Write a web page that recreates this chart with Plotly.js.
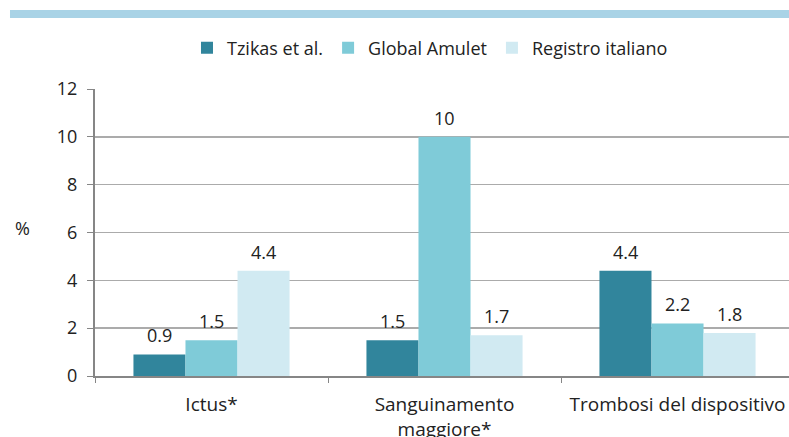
<!DOCTYPE html>
<html>
<head>
<meta charset="utf-8">
<script src="https://cdn.plot.ly/plotly-3.0.1.min.js"></script>
<style>html,body{margin:0;padding:0;background:#fff;}#chart{width:789px;height:437px;}</style>
</head>
<body>
<div id="chart"></div>
<script>
const categories = ["Ictus*", "Sanguinamento<br>maggiore*", "Trombosi del dispositivo"];
const seriesNames = ["Tzikas et al.", "Global Amulet", "Registro italiano"];
const tzikas = [0.9, 1.5, 4.4];
const globalAmulet = [1.5, 10, 2.2];
const registro = [4.4, 1.7, 1.8];
const yTicks = [0, 2, 4, 6, 8, 10, 12];
const colors = ["#31859C", "#7FCBD8", "#D1EAF2"];

const FONT = "'Open Sans', 'Noto Sans', sans-serif";
const BARGAP = 0.33;
const seriesValues = [tzikas, globalAmulet, registro];
const traces = seriesValues.map((vals, i) => ({
  type: "bar",
  name: seriesNames[i],
  x: categories,
  y: vals,
  marker: {color: colors[i], line: {width: 0}},
  hoverinfo: "none"
}));

// value labels placed above each bar through the axes
const barW = (1 - BARGAP) / seriesValues.length;
const labelAnns = [];
seriesValues.forEach((vals, i) => {
  vals.forEach((v, j) => {
    labelAnns.push({
      x: j + (i - (seriesValues.length - 1) / 2) * barW,
      y: v, xref: "x", yref: "y",
      text: String(v), showarrow: false,
      xanchor: "center", yanchor: "middle", yshift: 19,
      font: {family: FONT, size: 18, color: "#222"}
    });
  });
});

const layout = {
  width: 789, height: 437,
  margin: {l: 95, r: 0, t: 89, b: 61},
  paper_bgcolor: "#fff", plot_bgcolor: "#fff",
  barmode: "group",
  bargap: BARGAP, bargroupgap: 0,
  font: {family: FONT, size: 18, color: "#222"},
  showlegend: true,
  legend: {
    orientation: "h", x: 0.4827, xanchor: "center", y: 1.143, yanchor: "middle",
    font: {family: FONT, size: 18, color: "#222"},
    traceorder: "normal", itemwidth: 30
  },
  xaxis: {
    type: "category",
    range: [-0.5, 2.4785],
    showline: true, linecolor: "#868686", linewidth: 2,
    ticks: "outside", tickson: "boundaries", ticklen: 5, tickcolor: "#868686", tickwidth: 1,
    ticklabelstandoff: 10,
    showgrid: false, zeroline: false,
    tickfont: {family: FONT, size: 19, color: "#222"}
  },
  yaxis: {
    range: [0, 12], tickvals: yTicks, ticktext: yTicks.map(String),
    showline: true, linecolor: "#868686", linewidth: 2,
    ticks: "outside", ticklen: 6, tickcolor: "#868686", tickwidth: 1,
    showgrid: true, gridcolor: "#ababab", gridwidth: 1.5,
    zeroline: false,
    ticklabelstandoff: 6,
    tickfont: {family: FONT, size: 18, color: "#222"}
  },
  shapes: [{
    type: "rect", xref: "paper", yref: "paper",
    x0: -0.1225, x1: 1.0, y0: 1.2474, y1: 1.2753,
    fillcolor: "#A9D3E6", line: {width: 0}, layer: "above"
  }],
  annotations: labelAnns.concat([{
    text: "%", xref: "paper", yref: "paper",
    x: (22 - 95) / 694, y: (376 - 228) / 287,
    xanchor: "center", yanchor: "middle", showarrow: false,
    font: {family: FONT, size: 18, color: "#222"}
  }])
};

Plotly.newPlot("chart", traces, layout, {displayModeBar: false, staticPlot: true});
</script>
</body>
</html>
